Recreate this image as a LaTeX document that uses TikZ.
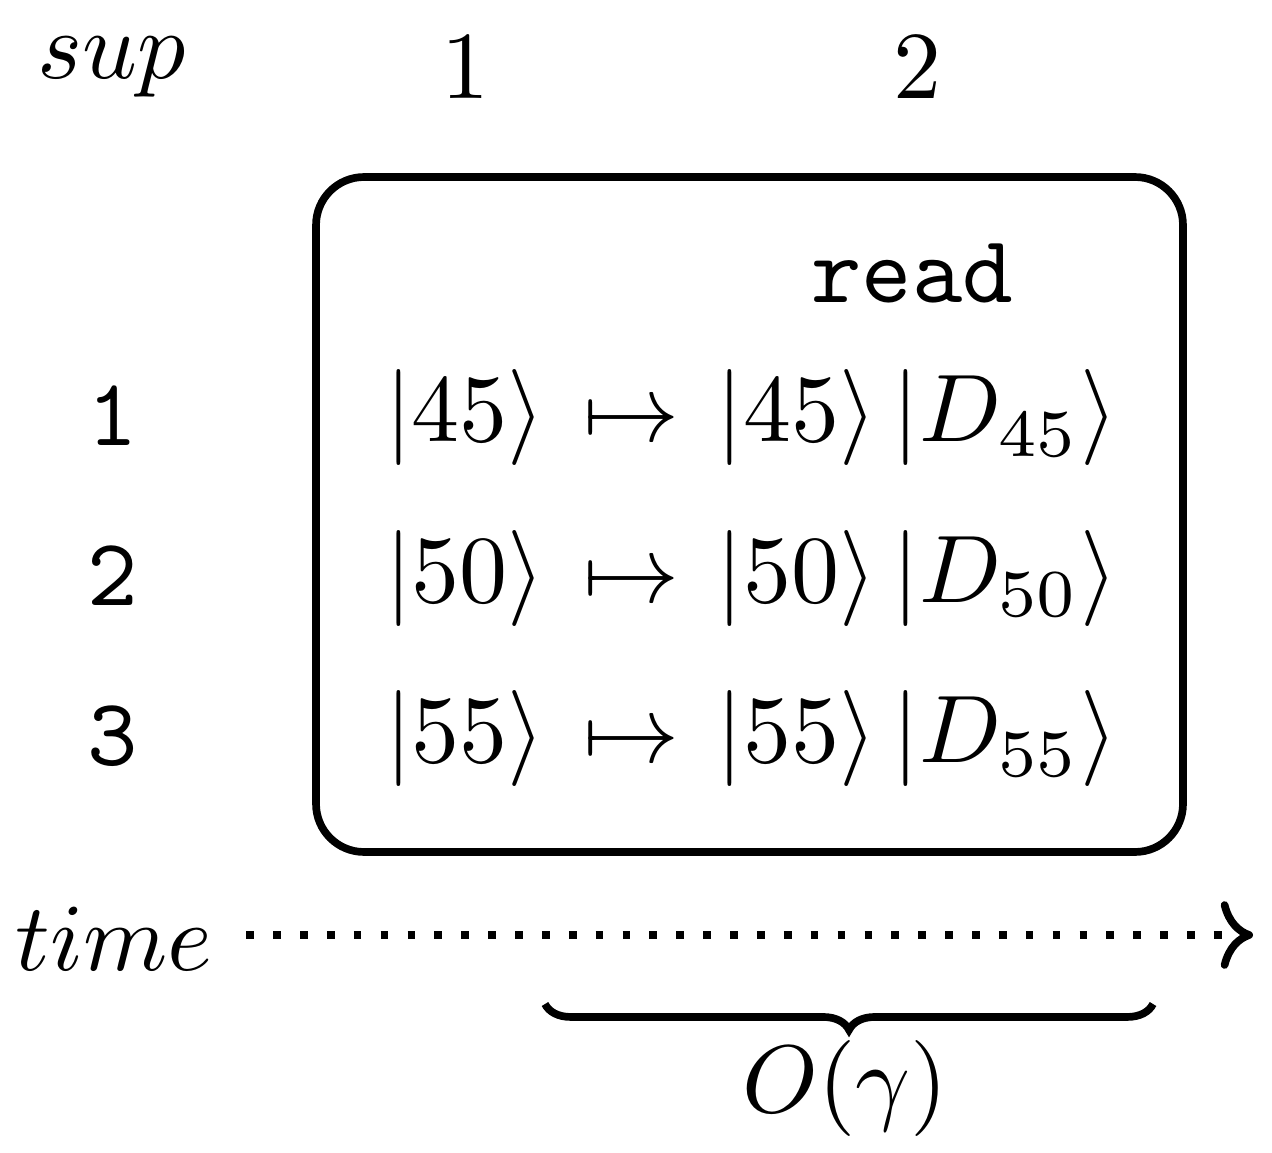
\documentclass[tikz,border=0pt]{standalone}
\usetikzlibrary{decorations.pathreplacing,arrows.meta}
\begin{document}
\begin{tikzpicture}[x=0.10417pt,y=-0.10417pt]
\tikzset{
  cell/.style={inner sep=0pt, anchor=base},
  frame/.style={draw, thick, rounded corners=5pt, inner sep=0pt,
    minimum width=90.31pt, minimum height=70.31pt},
  timeline/.style={thick, dotted, ->},
  bracemark/.style={thick, decorate, decoration={brace, mirror, amplitude=2.7pt}}
}
\useasboundingbox (0,0) rectangle (1272,1153);
% header
\node[cell] (sup) at (112,79) {$sup$};
\node[cell] (c1) at (465,99) {$1$};
\node[cell] (c2) at (917,99) {$2$};
% frame
\node[frame] (box) at (749.5,514.5) {};
\node[cell] (read) at (912,302) {\texttt{read}};
% rows
\node[cell] (r1) at (113,445) {\texttt{1}};
\node[cell] (r2) at (113,605) {\texttt{2}};
\node[cell] (r3) at (113,765) {\texttt{3}};
\node[cell] (a1) at (465,442) {$|45\rangle$};
\node[cell] (m1) at (631,442) {$\mapsto$};
\node[cell] (b1) at (917,442) {$|45\rangle\,|D_{45}\rangle$};
\node[cell] (a2) at (465,602) {$|50\rangle$};
\node[cell] (m2) at (631,602) {$\mapsto$};
\node[cell] (b2) at (917,602) {$|50\rangle\,|D_{50}\rangle$};
\node[cell] (a3) at (465,762) {$|55\rangle$};
\node[cell] (m3) at (631,762) {$\mapsto$};
\node[cell] (b3) at (917,762) {$|55\rangle\,|D_{55}\rangle$};
% time axis
\node[anchor=base] (time) at (114,970) {$time$};
\coordinate (tend) at (1253,935);
\draw[timeline] (time.east |- tend) -- (tend);
% brace
\coordinate (bl) at (545,1004);
\coordinate (br) at (1153,1004);
\draw[bracemark] (bl) -- (br);
\node[cell] (og) at (845,1112) {$O(\gamma)$};
\end{tikzpicture}
\end{document}
